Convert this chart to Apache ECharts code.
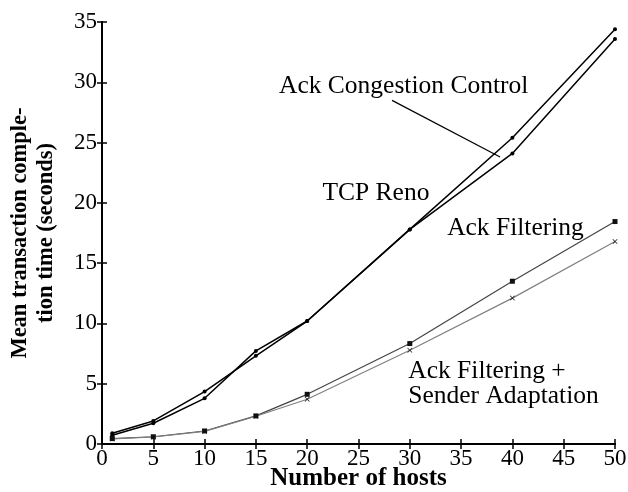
<!DOCTYPE html>
<html>
<head>
<meta charset="utf-8">
<script src="https://cdn.jsdelivr.net/npm/echarts@6/dist/echarts.min.js"></script>
<style>html,body{margin:0;padding:0;background:#fff}#c{width:628px;height:492px}</style>
</head>
<body>
<div id="c"></div>
<script>
const hosts = [1, 5, 10, 15, 20, 30, 40, 50];
const tcpReno = [0.89, 1.91, 4.35, 7.31, 10.2, 17.8, 25.4, 34.4];
const ackCongestion = [0.72, 1.72, 3.79, 7.72, 10.2, 17.8, 24.1, 33.6];
const ackFiltering = [0.45, 0.6, 1.08, 2.33, 4.12, 8.33, 13.5, 18.45];
const ackFilteringSA = [0.42, 0.58, 1.05, 2.3, 3.71, 7.78, 12.1, 16.8];
const xTicks = [0, 5, 10, 15, 20, 25, 30, 35, 40, 45, 50];
const yTicks = [0, 5, 10, 15, 20, 25, 30, 35];

const FONT = '"Liberation Serif", "DejaVu Serif", serif';
const pair = (xs, ys) => xs.map((x, i) => [x, ys[i]]);
const xSym = 'path://M0,1L1,0L5,4L9,0L10,1L6,5L10,9L9,10L5,6L1,10L0,9L4,5Z';

const annoLabel = (text, align) => ({
  show: true, formatter: text, color: '#000', fontFamily: FONT, fontSize: 25.5,
  align: align || 'center', verticalAlign: 'middle', position: 'inside', lineHeight: 25
});

const chart = echarts.init(document.getElementById('c'));
const axisCommon = {
  type: 'value', min: 0,
  axisLine: { show: true, lineStyle: { color: '#000', width: 2 } },
  axisTick: { show: true, inside: true, length: 5, lineStyle: { color: '#000', width: 1.5 } },
  splitLine: { show: false }
};
chart.setOption({
  animation: false,
  backgroundColor: '#fff',
  grid: { left: 102, right: 13, top: 22, bottom: 48, containLabel: false, outerBoundsMode: 'none' },
  xAxis: [
    Object.assign({}, axisCommon, {
      max: 50, interval: 5, position: 'bottom',
      axisLabel: { color: '#000', fontFamily: FONT, fontSize: 23, margin: 3, showMinLabel: true, showMaxLabel: true,
        hideOverlap: false, formatter: v => xTicks.includes(v) ? String(v) : '' },
      name: 'Number of hosts', nameLocation: 'middle', nameGap: 22, nameMoveOverlap: false,
      nameTextStyle: { color: '#000', fontFamily: FONT, fontSize: 25, fontWeight: 'bold', lineHeight: 25 }
    }),
    Object.assign({}, axisCommon, { max: 50, interval: 5, position: 'top', axisLabel: { show: false } })
  ],
  yAxis: [
    Object.assign({}, axisCommon, {
      max: 35, interval: 5, position: 'left',
      axisLabel: { color: '#000', fontFamily: FONT, fontSize: 23, margin: 5,
        formatter: v => yTicks.includes(v) ? String(v) : '' },
      name: 'Mean transaction comple-\ntion time (seconds)', nameLocation: 'middle', nameGap: 43,
      nameTextStyle: { color: '#000', fontFamily: FONT, fontSize: 22.5, fontWeight: 'bold', lineHeight: 26 }
    }),
    Object.assign({}, axisCommon, { max: 35, interval: 5, position: 'right', axisLabel: { show: false } })
  ],
  series: [
    {
      name: 'TCP Reno', type: 'line', data: pair(hosts, tcpReno),
      symbol: 'circle', symbolSize: 4, showSymbol: true,
      lineStyle: { color: '#000', width: 1.5 }, itemStyle: { color: '#000' },
      markPoint: {
        symbol: 'circle', symbolSize: 0, silent: true,
        data: [{ coord: [26.7, 20.8], label: annoLabel('TCP Reno') }]
      }
    },
    {
      name: 'Ack Congestion Control', type: 'line', data: pair(hosts, ackCongestion),
      symbol: 'circle', symbolSize: 4, showSymbol: true,
      lineStyle: { color: '#000', width: 1.5 }, itemStyle: { color: '#000' },
      markPoint: {
        symbol: 'circle', symbolSize: 0, silent: true,
        data: [{ coord: [29.4, 29.7], label: annoLabel('Ack Congestion Control') }]
      },
      markLine: {
        silent: true, symbol: ['none', 'arrow'], symbolSize: [0, 11],
        lineStyle: { color: '#000', width: 1.2, type: 'solid' }, label: { show: false },
        data: [[{ coord: [28.27, 28.5] }, { coord: [38.8, 23.8] }]]
      }
    },
    {
      name: 'Ack Filtering', type: 'line', data: pair(hosts, ackFiltering),
      symbol: 'rect', symbolSize: 5, showSymbol: true,
      lineStyle: { color: '#444', width: 1.2 }, itemStyle: { color: '#111' },
      markPoint: {
        symbol: 'circle', symbolSize: 0, silent: true,
        data: [{ coord: [40.3, 17.9], label: annoLabel('Ack Filtering') }]
      }
    },
    {
      name: 'Ack Filtering + Sender Adaptation', type: 'line', data: pair(hosts, ackFilteringSA),
      symbol: xSym, symbolSize: 5, showSymbol: true,
      lineStyle: { color: '#808080', width: 1.2 }, itemStyle: { color: '#111' },
      markPoint: {
        symbol: 'circle', symbolSize: 0, silent: true,
        data: [{ coord: [29.85, 5.0], label: annoLabel('Ack Filtering +\nSender Adaptation', 'left') }]
      }
    }
  ]
});
</script>
</body>
</html>
